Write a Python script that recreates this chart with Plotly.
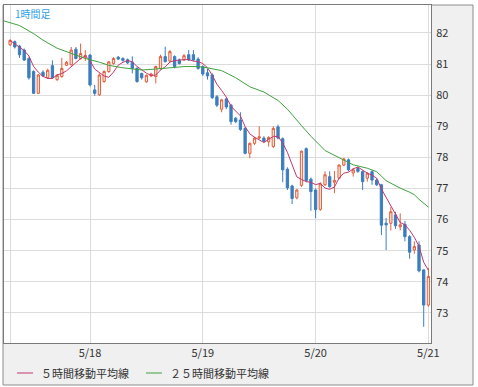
import pandas as pd
import plotly.graph_objects as go

# ---- data ----
first_candle = "2010-05-17 07:00"
opens = [81.62, 81.72, 81.58, 81.45, 81.18, 80.76, 80.06, 80.74, 80.56, 80.95,
         80.50, 80.60, 80.96, 80.98, 81.48, 81.18, 81.22, 81.29, 80.17, 80.01,
         80.44, 80.76, 81.02, 81.22, 81.18, 81.14, 81.06, 80.86, 80.70, 80.43,
         80.62, 80.60, 80.86, 81.24, 81.10, 81.24, 81.13, 81.13, 81.30, 81.30,
         81.16, 80.92, 80.72, 80.65, 79.95, 79.55, 79.88, 79.68, 79.26, 79.20,
         78.93, 78.13, 78.45, 78.62, 78.62, 78.50, 78.35, 78.98, 78.60, 77.62,
         77.08, 76.70, 77.10, 78.28, 77.30, 76.95, 76.33, 77.12, 77.38, 77.20,
         77.33, 77.75, 77.92, 77.50, 77.64, 77.54, 77.33, 77.54, 77.27, 77.12,
         75.88, 75.88, 76.15, 75.77, 75.85, 75.45, 75.02, 75.18, 74.38, 73.25]
highs = [81.80, 81.76, 81.62, 81.50, 81.22, 80.80, 80.68, 80.80, 80.85, 81.12,
         80.68, 81.20, 81.10, 81.55, 81.55, 81.66, 81.45, 81.32, 80.33, 80.70,
         80.80, 81.10, 81.22, 81.26, 81.22, 81.18, 81.25, 80.90, 80.72, 80.66,
         80.72, 80.95, 81.30, 81.56, 81.45, 81.28, 81.18, 81.32, 81.45, 81.45,
         81.22, 80.96, 80.85, 80.70, 80.00, 79.88, 79.92, 79.72, 79.30, 79.45,
         78.98, 78.48, 78.66, 79.00, 78.68, 78.68, 79.00, 79.05, 78.64, 77.68,
         77.12, 76.98, 78.22, 78.32, 77.35, 77.00, 77.20, 77.55, 77.55, 77.56,
         77.78, 77.98, 77.96, 77.66, 77.70, 77.58, 77.52, 77.58, 77.32, 77.15,
         76.05, 76.40, 76.25, 76.20, 75.95, 75.50, 75.30, 75.30, 74.40, 74.44]
lows = [81.58, 81.50, 81.20, 81.10, 80.50, 80.04, 80.04, 80.58, 80.52, 80.52,
        80.46, 80.56, 80.94, 80.95, 81.15, 81.14, 81.10, 80.28, 79.98, 79.98,
        80.40, 80.72, 80.98, 81.14, 81.08, 81.00, 80.70, 80.40, 80.50, 80.40,
        80.58, 80.38, 80.82, 81.05, 81.06, 80.86, 80.98, 81.10, 81.10, 81.10,
        80.82, 80.62, 80.50, 79.88, 79.62, 79.45, 79.55, 79.05, 79.10, 78.85,
        78.10, 77.97, 78.40, 78.58, 78.48, 78.35, 78.30, 78.58, 77.20, 76.95,
        76.50, 76.65, 77.05, 77.20, 76.28, 76.04, 76.28, 77.08, 77.02, 76.85,
        77.30, 77.72, 77.55, 77.38, 77.50, 76.95, 77.22, 77.12, 77.08, 75.50,
        75.02, 75.65, 75.70, 75.65, 75.30, 74.74, 74.90, 74.30, 72.55, 73.20]
closes = [81.76, 81.55, 81.30, 81.13, 80.56, 80.06, 80.65, 80.62, 80.80, 80.56,
          80.64, 80.86, 81.06, 81.45, 81.18, 81.34, 81.28, 80.33, 80.06, 80.65,
          80.76, 81.07, 81.18, 81.16, 81.12, 81.04, 80.86, 80.44, 80.56, 80.64,
          80.68, 80.92, 81.24, 81.08, 81.40, 80.92, 81.02, 81.27, 81.13, 81.13,
          80.86, 80.68, 80.62, 79.92, 79.68, 79.85, 79.62, 79.15, 79.15, 78.90,
          78.13, 78.45, 78.62, 78.66, 78.52, 78.64, 78.93, 78.62, 77.60, 77.02,
          76.68, 76.95, 78.20, 77.25, 76.90, 76.32, 77.15, 77.44, 77.06, 77.26,
          77.75, 77.95, 77.60, 77.60, 77.55, 77.22, 77.49, 77.27, 77.12, 75.82,
          75.83, 76.25, 75.80, 75.83, 75.45, 74.95, 75.13, 74.35, 73.25, 74.17]

ma25_times = ["2010-05-17 05:00", "2010-05-17 09:00", "2010-05-17 12:00",
              "2010-05-17 14:00", "2010-05-17 17:00", "2010-05-17 20:00",
              "2010-05-17 23:00", "2010-05-18 02:00", "2010-05-18 04:00",
              "2010-05-18 07:00", "2010-05-18 11:00", "2010-05-18 14:00",
              "2010-05-18 17:00", "2010-05-18 20:00", "2010-05-18 23:00",
              "2010-05-19 01:00", "2010-05-19 04:00", "2010-05-19 06:00",
              "2010-05-19 07:00", "2010-05-19 10:00", "2010-05-19 13:00",
              "2010-05-19 16:00", "2010-05-19 18:00", "2010-05-19 21:00",
              "2010-05-19 23:00", "2010-05-20 02:00", "2010-05-20 05:00",
              "2010-05-20 08:00", "2010-05-20 11:00", "2010-05-20 13:00",
              "2010-05-20 15:00", "2010-05-20 18:00", "2010-05-20 20:00",
              "2010-05-20 21:00", "2010-05-20 22:00", "2010-05-20 23:00",
              "2010-05-21 00:00"]
ma25_values = [82.42, 82.24, 81.98, 81.77, 81.51, 81.35, 81.18, 81.06, 80.96,
               80.88, 80.81, 80.84, 80.88, 80.92, 80.92, 80.88, 80.79, 80.65,
               80.56, 80.27, 80.10, 79.83, 79.55, 79.02, 78.68, 78.22, 77.98,
               77.76, 77.65, 77.54, 77.25, 77.01, 76.88, 76.80, 76.65, 76.52,
               76.40]

y_ticks = [73, 74, 75, 76, 77, 78, 79, 80, 81, 82]
x_tick_vals = ["2010-05-17 07:00", "2010-05-18", "2010-05-19", "2010-05-20", "2010-05-21"]
x_tick_text = ["", "5/18", "5/19", "5/20", "5/21"]
title_text = "1時間足"
legend_names = ["５時間移動平均線", "２５時間移動平均線"]

times = pd.date_range(first_candle, periods=len(closes), freq="h")
ma5 = pd.Series(closes).rolling(5, min_periods=1).mean()

# ---- styles ----
BLUE = "#3b7dbf"
RED = "#e0603c"
RED_FILL = "#fce6df"
MA5_COLOR = "#c2366e"
MA25_COLOR = "#3ea23e"
FONT = "Noto Sans CJK JP"

W, H = 478, 387
ML, MR, MT, MB = 4, 47, 5, 44
PW, PH = W - ML - MR, H - MT - MB


def px(x):
    return (x - ML) / PW


def py(y):
    return (H - MB - y) / PH


fig = go.Figure()
fig.add_trace(go.Candlestick(
    x=times, open=opens, high=highs, low=lows, close=closes,
    increasing=dict(line=dict(color=RED, width=1), fillcolor=RED_FILL),
    decreasing=dict(line=dict(color=BLUE, width=1), fillcolor=BLUE),
    whiskerwidth=0, showlegend=False, hoverinfo="skip"))
fig.add_trace(go.Scatter(x=times, y=ma5, mode="lines",
                         line=dict(color=MA5_COLOR, width=1), showlegend=False))
fig.add_trace(go.Scatter(x=ma25_times, y=ma25_values, mode="lines",
                         line=dict(color=MA25_COLOR, width=1), showlegend=False))

shapes = [
    dict(type="rect", xref="paper", yref="paper", x0=px(3), x1=px(473), y0=py(385), y1=py(5),
         fillcolor="#f0f0f0", line=dict(color="#8c8c8c", width=1), layer="below"),
    dict(type="rect", xref="paper", yref="paper", x0=0, x1=1, y0=0, y1=1,
         fillcolor="white", line=dict(width=0), layer="below"),
    dict(type="line", xref="paper", yref="paper", x0=px(17), x1=px(33), y0=py(373), y1=py(373),
         line=dict(color=MA5_COLOR, width=1)),
    dict(type="line", xref="paper", yref="paper", x0=px(146), x1=px(162), y0=py(373), y1=py(373),
         line=dict(color=MA25_COLOR, width=1)),
]
annotations = [
    dict(text=title_text, xref="paper", yref="paper", x=px(13), y=py(13), xanchor="left",
         yanchor="middle", showarrow=False, font=dict(family=FONT, size=10, color="#2fa0e6")),
    dict(text=legend_names[0], xref="paper", yref="paper", x=px(39), y=py(373), xanchor="left",
         yanchor="middle", showarrow=False, font=dict(family=FONT, size=11, color="#333333")),
    dict(text=legend_names[1], xref="paper", yref="paper", x=px(168), y=py(373), xanchor="left",
         yanchor="middle", showarrow=False, font=dict(family=FONT, size=11, color="#333333")),
]

fig.update_layout(
    width=W, height=H,
    margin=dict(l=ML, r=MR, t=MT, b=MB, pad=0),
    paper_bgcolor="white", plot_bgcolor="white",
    shapes=shapes, annotations=annotations,
    showlegend=False,
    xaxis=dict(type="date", range=["2010-05-17 05:42", "2010-05-21 00:33"],
               tickvals=x_tick_vals, ticktext=x_tick_text, ticks="",
               showgrid=True, gridcolor="#dcdcdc", gridwidth=1,
               showline=True, mirror=True, linecolor="#7a7a7a", linewidth=1,
               zeroline=False, rangeslider=dict(visible=False),
               tickfont=dict(family=FONT, size=11, color="#333333")),
    yaxis=dict(side="right", range=[72.03, 82.9], tickvals=y_ticks, ticks="",
               showgrid=True, gridcolor="#dcdcdc", gridwidth=1,
               showline=True, mirror=True, linecolor="#7a7a7a", linewidth=1,
               zeroline=False, ticklabelstandoff=2,
               tickfont=dict(family=FONT, size=11, color="#333333")),
)

fig.write_html("out.html",
               config={"displayModeBar": False},
               post_script="document.body.style.margin='0';document.body.style.padding='0';")
